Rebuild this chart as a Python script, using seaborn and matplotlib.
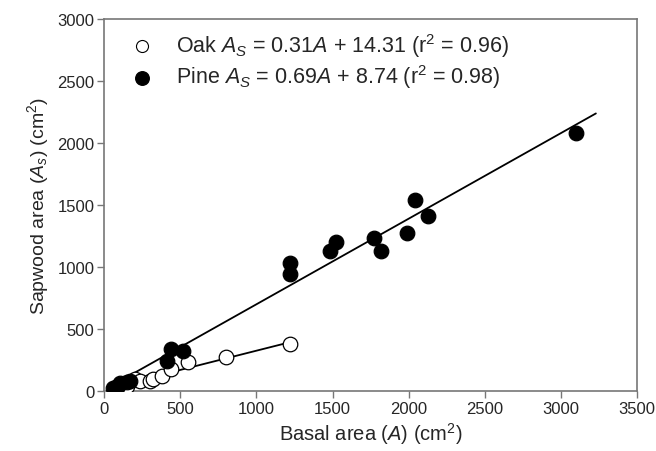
import matplotlib
matplotlib.use("Agg")
import matplotlib.pyplot as plt
import seaborn as sns
import numpy as np
import pandas as pd

# Basal area (cm2) and sapwood area (cm2)
oak_basal = [70, 85, 100, 150, 200, 235, 300, 320, 376, 441, 550, 800, 1220]
oak_sapwood = [15, 20, 30, 40, 95, 83, 80, 97, 124, 177, 231, 270, 380]
pine_basal = [60, 75, 90, 104, 148, 170, 409, 441, 517, 1220, 1220, 1480, 1520,
              1770, 1820, 1990, 2040, 2130, 3100]
pine_sapwood = [20, 35, 43, 60, 72, 83, 245, 339, 325, 1030, 940, 1130, 1200,
                1230, 1130, 1270, 1540, 1410, 2080]

# regression lines: slope, intercept, x range drawn
oak_fit = (0.31, 14.31, 60, 1220)
pine_fit = (0.69, 8.74, 50, 3230)

legend_labels = [
    r"Oak $\mathit{A_S}$ = 0.31$\mathit{A}$ + 14.31 (r$^2$ = 0.96)",
    r"Pine $\mathit{A_S}$ = 0.69$\mathit{A}$ + 8.74 (r$^2$ = 0.98)",
]

sns.set_style("ticks")
plt.rcParams["font.family"] = ["Liberation Sans", "DejaVu Sans"]
plt.rcParams["mathtext.fontset"] = "custom"
plt.rcParams["mathtext.rm"] = "Liberation Sans"
plt.rcParams["mathtext.it"] = "Liberation Sans:italic"

df = pd.concat([
    pd.DataFrame({"basal": oak_basal, "sapwood": oak_sapwood, "species": "Oak"}),
    pd.DataFrame({"basal": pine_basal, "sapwood": pine_sapwood, "species": "Pine"}),
])

fig = plt.figure(figsize=(6.56, 4.52), dpi=100)
ax = fig.add_axes([0.159, 0.133, 0.812, 0.823])

for slope, icpt, x0, x1 in [oak_fit, pine_fit]:
    xs = np.array([x0, x1])
    sns.lineplot(x=xs, y=slope * xs + icpt, color="black", lw=1.3, ax=ax, zorder=2)

oak = df[df.species == "Oak"]
pine = df[df.species == "Pine"]
sns.scatterplot(data=oak, x="basal", y="sapwood", s=110, facecolor="white",
                edgecolor="black", linewidth=0.9, ax=ax, zorder=3)
sns.scatterplot(data=pine, x="basal", y="sapwood", s=110, color="black",
                edgecolor="black", linewidth=0.9, ax=ax, zorder=4)

# legend
h1 = ax.scatter([], [], s=75, facecolor="white", edgecolor="black", linewidth=0.8)
h2 = ax.scatter([], [], s=95, color="black")
ax.legend([h1, h2], legend_labels, loc="upper left", frameon=False,
          fontsize=15.5, bbox_to_anchor=(0.014, 0.99), borderaxespad=0,
          handletextpad=0.6, labelspacing=0.15)

ax.set_xlim(0, 3500)
ax.set_ylim(0, 3000)
ax.set_xticks(np.arange(0, 3501, 500))
ax.set_yticks(np.arange(0, 3001, 500))
ax.set_xlabel(r"Basal area ($\mathit{A}$) (cm$^2$)", fontsize=14.5, labelpad=3)
ax.set_ylabel(r"Sapwood area ($\mathit{A_s}$) (cm$^2$)", fontsize=14, labelpad=5)
ax.tick_params(labelsize=12, direction="out", length=5, color="#777777",
               width=1, pad=2)
for sp in ax.spines.values():
    sp.set_visible(True)
    sp.set_color("#777777")
    sp.set_linewidth(1.2)

fig.savefig("out.png", dpi=100)
